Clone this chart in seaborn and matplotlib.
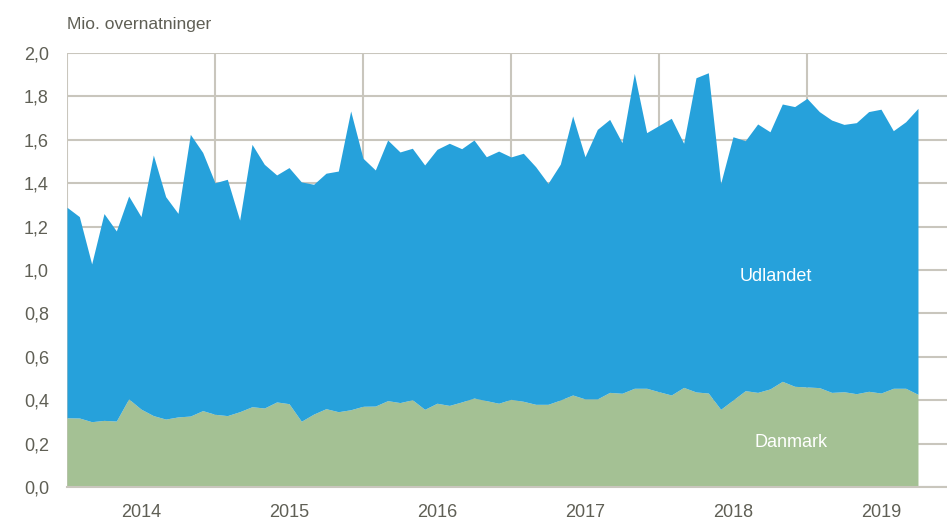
import numpy as np
import matplotlib
matplotlib.use("Agg")
import matplotlib.pyplot as plt
import seaborn as sns

# Monthly data, Jan 2014 - Oct 2019 (mio. overnatninger)
years = [2014, 2015, 2016, 2017, 2018, 2019]

danmark = [0.319, 0.318, 0.301, 0.307, 0.304, 0.406, 0.359, 0.329, 0.313, 0.323, 0.327, 0.352,
           0.335, 0.329, 0.347, 0.370, 0.364, 0.392, 0.384, 0.303, 0.336, 0.361, 0.347, 0.356,
           0.372, 0.373, 0.398, 0.389, 0.402, 0.358, 0.386, 0.376, 0.392, 0.410, 0.398, 0.386,
           0.404, 0.395, 0.381, 0.381, 0.401, 0.424, 0.406, 0.406, 0.436, 0.432, 0.455, 0.455,
           0.439, 0.424, 0.459, 0.438, 0.433, 0.358, 0.401, 0.444, 0.436, 0.452, 0.487, 0.464,
           0.461, 0.458, 0.436, 0.439, 0.430, 0.441, 0.433, 0.455, 0.455, 0.427]

# top of the stack (Danmark + Udlandet)
samlet = [1.289, 1.246, 1.028, 1.260, 1.180, 1.341, 1.246, 1.530, 1.338, 1.261, 1.625, 1.542,
          1.402, 1.418, 1.230, 1.579, 1.487, 1.438, 1.472, 1.406, 1.395, 1.446, 1.456, 1.733,
          1.515, 1.461, 1.599, 1.544, 1.561, 1.484, 1.556, 1.584, 1.559, 1.599, 1.522, 1.548,
          1.521, 1.538, 1.476, 1.399, 1.488, 1.710, 1.522, 1.648, 1.694, 1.587, 1.906, 1.633,
          1.666, 1.699, 1.584, 1.886, 1.909, 1.399, 1.614, 1.596, 1.673, 1.637, 1.765, 1.753,
          1.791, 1.730, 1.691, 1.671, 1.679, 1.730, 1.741, 1.642, 1.683, 1.745]

blue = "#26a1db"
green = "#a4c194"
txt = "#5f5f55"
gridc = "#c9c6bd"

sns.set_style("white")
plt.rcParams['font.family'] = ['Liberation Sans', 'DejaVu Sans']

fig = plt.figure(figsize=(9.47, 5.22), dpi=100)
ax = fig.add_axes([67 / 947, 35 / 522, 880 / 947, 434 / 522])

x = np.arange(len(danmark))
ax.fill_between(x, 0, danmark, color=green, lw=0, zorder=2)
ax.fill_between(x, danmark, samlet, color=blue, lw=0, zorder=2)

ax.set_xlim(0, 880 / 12.333)
ax.set_ylim(0, 2.0)

yt = np.arange(0, 2.01, 0.2)
ax.set_yticks(yt)
ax.set_yticklabels([f"{v:.1f}".replace(".", ",") for v in yt])
ax.set_xticks(np.arange(0, 72, 12))
ax.set_xticklabels([])
ax.set_xticks(np.arange(6, 72, 12), minor=True)
ax.set_xticklabels([str(y) for y in years], minor=True)

ax.grid(True, color=gridc, lw=1.5, zorder=0)
ax.set_axisbelow(True)
for s in ["top", "right", "left"]:
    ax.spines[s].set_visible(False)
ax.spines["bottom"].set_color(gridc)
ax.spines["bottom"].set_linewidth(1.5)
ax.spines["bottom"].set_zorder(3)

ax.tick_params(axis="x", which="major", length=6, width=1.2, color=gridc, direction="out")
ax.tick_params(axis="x", which="minor", length=0, labelsize=13, labelcolor=txt, pad=12)
ax.tick_params(axis="y", length=0, labelsize=13, labelcolor=txt, pad=13)

fig.text(67 / 947, 1 - 25 / 522, "Mio. overnatninger", color=txt, fontsize=12.5,
         ha="left", va="center")
ax.text(776 / 12.333 - 67 / 12.333, 0.97, "Udlandet", color="white", fontsize=13,
        ha="center", va="center", zorder=4)
ax.text(791 / 12.333 - 67 / 12.333, 0.205, "Danmark", color="white", fontsize=13,
        ha="center", va="center", zorder=4)

fig.savefig("out.png", dpi=100)
